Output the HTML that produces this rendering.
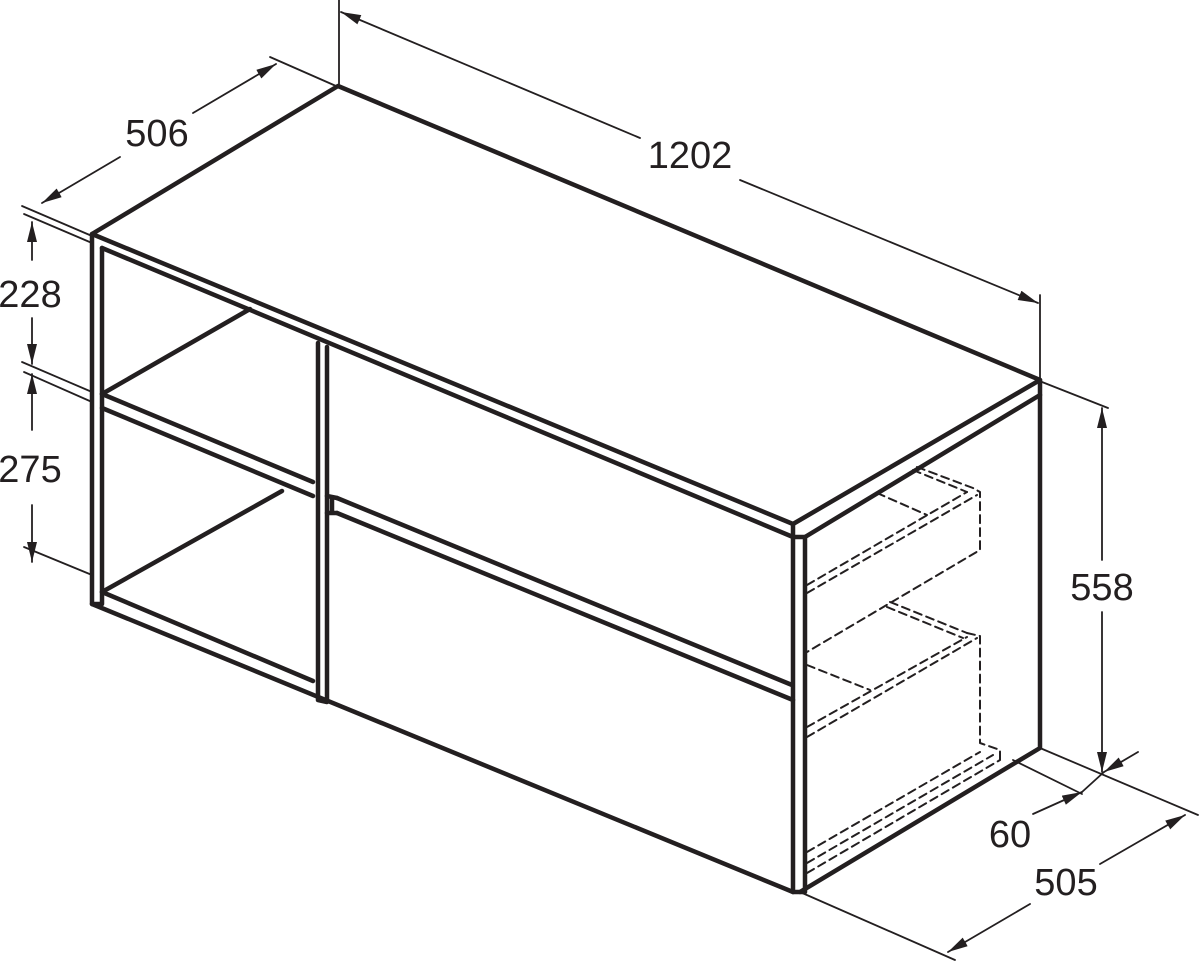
<!DOCTYPE html>
<html><head><meta charset="utf-8"><style>
html,body{margin:0;padding:0;background:#fff;}
svg{display:block;}
text{font-family:"Liberation Sans",Arial,sans-serif;font-size:38px;fill:#231f20;text-anchor:middle;}
</style></head><body>
<svg width="1200" height="964" viewBox="0 0 1200 964" xmlns="http://www.w3.org/2000/svg">
<defs>
<marker id="ar" viewBox="0 0 20 10" refX="20" refY="5" markerWidth="20" markerHeight="10" markerUnits="userSpaceOnUse" orient="auto">
<path d="M0,0 L20,5 L0,10 Z" fill="#231f20"/></marker>
</defs>
<g stroke="#231f20" fill="none" stroke-linecap="round" stroke-linejoin="round">
<g stroke-width="4.5">
<path d="M92,234 L338,86 L1040,380 L793,524 Z"/>
<path d="M102,248 L793,537"/>
<path d="M805,537 L1040,395"/>
<path d="M1040,380 L1040,748 L800,892"/>
<path d="M92,234 L92,604 L102,604 L102,248"/>
<path d="M793,524 L793,892 L805,892 L805,537 L793,537"/>
<path d="M92,604 L793,892"/>
<path d="M102,592 L313,681"/>
<path d="M318,343 L318,700 L327,702 L327,347"/>
<path d="M102,394 L313,482"/>
<path d="M102,408 L313,496"/>
<path d="M102,394 L250,309"/>
<path d="M102,592 L282,491"/>
<path d="M337,498 L792,685"/>
<path d="M337,513 L793,700"/>
<path d="M327,496 L337,498 M327,513 L337,513 M332,497 L332,513"/>
</g>
<g stroke-width="2" stroke-dasharray="8,5">
<path d="M807,585 L967,492"/>
<path d="M807,593 L977,495"/>
<path d="M913,470 L967,492"/>
<path d="M917,467 L973,488 L980,492 L980,550 L807,652"/>
<path d="M877,493 L927,515"/>
<path d="M890,602 L967,633"/>
<path d="M887,607 L963,638"/>
<path d="M807,727 L967,637"/>
<path d="M807,737 L977,638"/>
<path d="M967,633 L980,636 L980,743 L1000,750 L1000,760"/>
<path d="M807,665 L870,690"/>
<path d="M807,852 L980,752"/>
<path d="M807,863 L993,755"/>
<path d="M807,873 L1000,760"/>
</g>
<g stroke-width="1.8">
<path d="M339,0 L339,84"/>
<path d="M1040,295 L1040,378"/>
<path d="M270,57 L336,86"/>
<path d="M22,206 L92,236"/>
<path d="M24,214 L92,243"/>
<path d="M22,362 L92,392"/>
<path d="M24,372 L92,402"/>
<path d="M24,547 L92,575"/>
<path d="M1042,382 L1108,408"/>
<path d="M1040,748 L1198,815"/>
<path d="M800,892 L955,960"/>
<path d="M1013,760 L1082,794"/>
<line x1="120" y1="157" x2="42" y2="203" marker-end="url(#ar)"/>
<line x1="193" y1="113" x2="276" y2="64" marker-end="url(#ar)"/>
<line x1="640" y1="138" x2="341" y2="12" marker-end="url(#ar)"/>
<line x1="740" y1="180" x2="1038" y2="303" marker-end="url(#ar)"/>
<line x1="32" y1="260" x2="32" y2="222" marker-end="url(#ar)"/>
<line x1="32" y1="318" x2="32" y2="364" marker-end="url(#ar)"/>
<line x1="32" y1="430" x2="32" y2="374" marker-end="url(#ar)"/>
<line x1="32" y1="505" x2="32" y2="562" marker-end="url(#ar)"/>
<line x1="1102" y1="560" x2="1102" y2="408" marker-end="url(#ar)"/>
<line x1="1102" y1="612" x2="1102" y2="772" marker-end="url(#ar)"/>
<line x1="1138" y1="752" x2="1104" y2="772" marker-end="url(#ar)"/>
<line x1="1033" y1="814" x2="1082" y2="792" marker-end="url(#ar)"/>
<line x1="1082" y1="792" x2="1104" y2="772"/>
<line x1="1100" y1="864" x2="1185" y2="815" marker-end="url(#ar)"/>
<line x1="1030" y1="904" x2="948" y2="952" marker-end="url(#ar)"/>
</g>
</g>
<text x="157" y="146">506</text>
<text x="690" y="168">1202</text>
<text x="30" y="307">228</text>
<text x="30" y="482">275</text>
<text x="1102" y="600">558</text>
<text x="1010" y="847">60</text>
<text x="1066" y="895">505</text>
</svg>
</body></html>
